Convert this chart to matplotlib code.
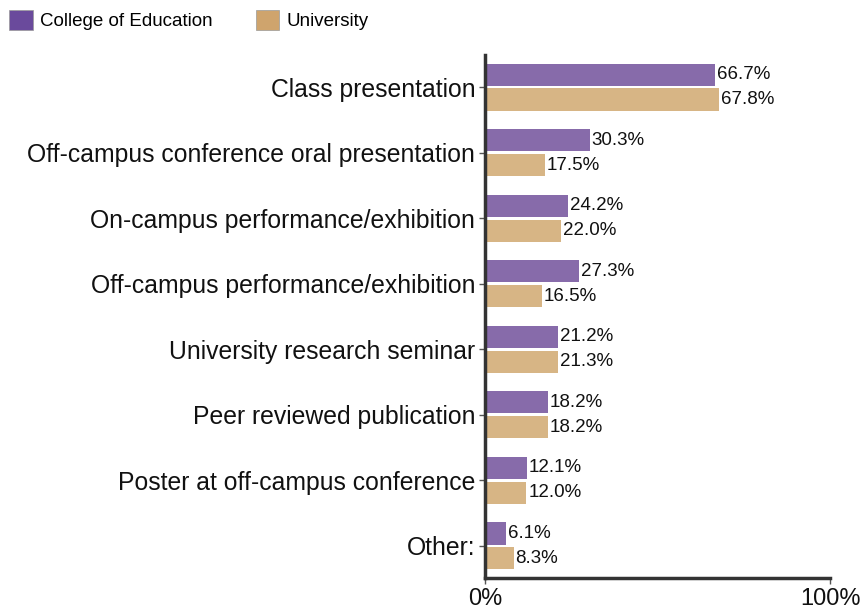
import matplotlib
matplotlib.use("Agg")
import matplotlib.pyplot as plt
from matplotlib.patches import Patch
import numpy as np

plt.rcParams['font.family'] = ['Liberation Sans', 'DejaVu Sans']

categories = ["Class presentation", "Off-campus conference oral presentation",
              "On-campus performance/exhibition", "Off-campus performance/exhibition",
              "University research seminar", "Peer reviewed publication",
              "Poster at off-campus conference", "Other:"]
college = [66.7, 30.3, 24.2, 27.3, 21.2, 18.2, 12.1, 6.1]
university = [67.8, 17.5, 22.0, 16.5, 21.3, 18.2, 12.0, 8.3]
series_names = ["College of Education", "University"]

bar_colors = ["#876BAA", "#D7B585"]
legend_colors = ["#6A4A9C", "#CFA46D"]

fig = plt.figure(figsize=(8.63, 6.11), dpi=100)
ax = fig.add_axes([485/863, 1-578/611, (830-485)/863, (578-55)/611])

y = np.arange(len(categories))
h = 0.34
off = 0.19
b1 = ax.barh(y - off, college, height=h, color=bar_colors[0])
b2 = ax.barh(y + off, university, height=h, color=bar_colors[1])
for bars, vals in ((b1, college), (b2, university)):
    for rect, v in zip(bars, vals):
        ax.text(v + 0.5, rect.get_y() + rect.get_height()/2, f"{v:.1f}%",
                va='center', ha='left', fontsize=13.5, color='#111111')

ax.set_xlim(0, 100)
ax.set_ylim(len(categories) - 0.51, -0.49)
ax.set_yticks(y)
ax.set_yticklabels(categories, fontsize=17.8, color='#111111')
ax.set_xticks([0, 100])
ax.set_xticklabels(["0%", "100%"], fontsize=17, color='#111111')
for s in ['top', 'right']:
    ax.spines[s].set_visible(False)
for s in ['left', 'bottom']:
    ax.spines[s].set_linewidth(2.5)
    ax.spines[s].set_color('#333333')
ax.tick_params(axis='y', length=4, width=1, color='#555555', pad=3)
ax.tick_params(axis='x', length=4, width=1, color='#555555', pad=3)

handles = [Patch(facecolor=c, edgecolor='#999999', linewidth=0.5) for c in legend_colors]
fig.legend(handles, series_names, loc='upper left', bbox_to_anchor=(-0.009, 1.012),
           ncol=2, frameon=False, fontsize=13.5, handlelength=1.25, handleheight=1.3,
           columnspacing=2.3, handletextpad=0.4)

fig.savefig("out.png", dpi=100)
